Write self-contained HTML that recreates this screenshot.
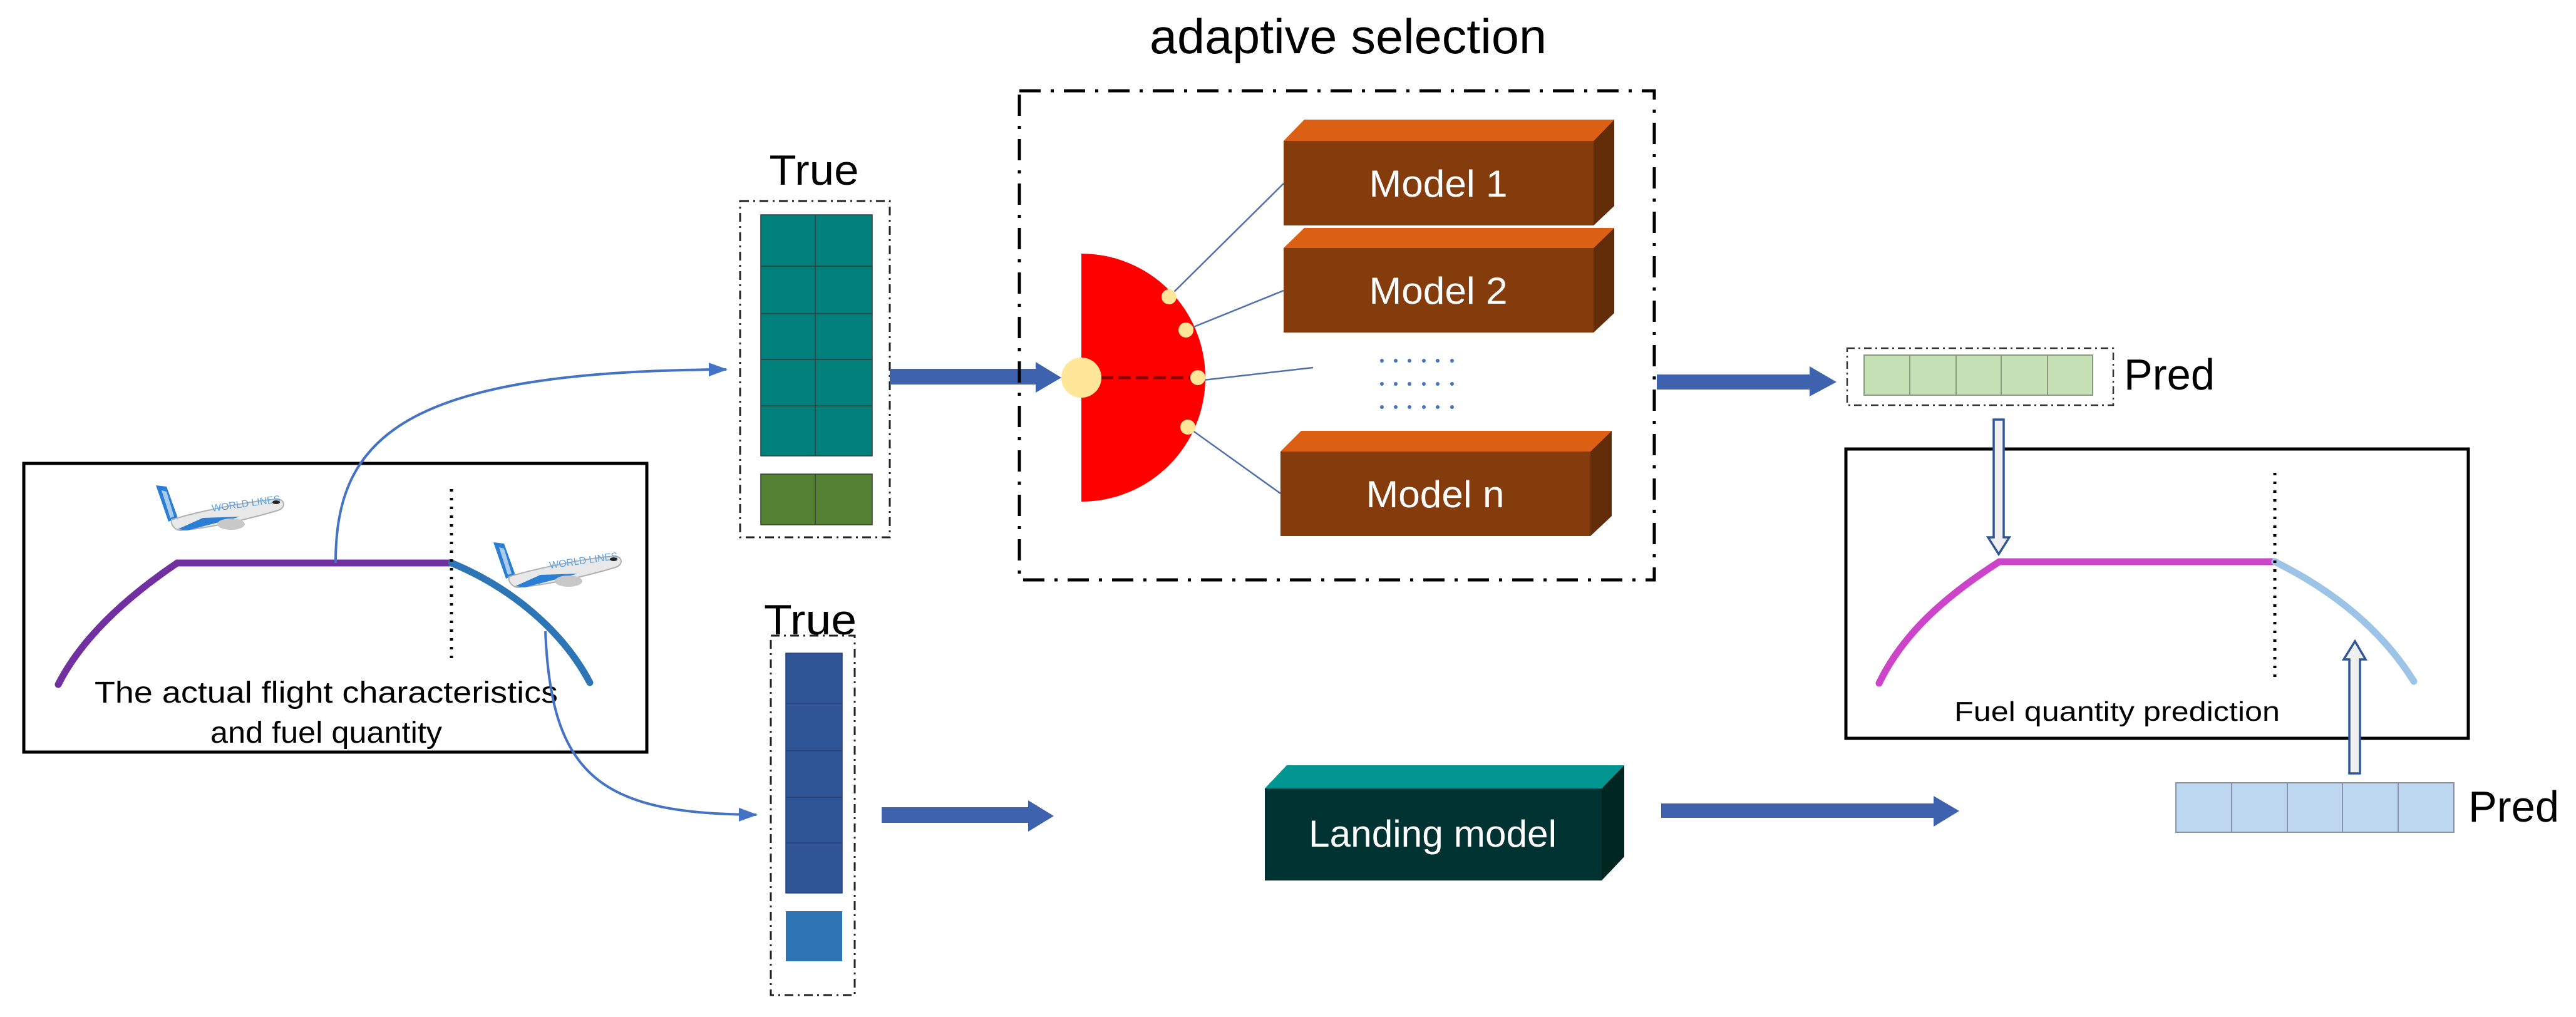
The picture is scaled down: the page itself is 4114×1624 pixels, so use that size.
<!DOCTYPE html>
<html><head><meta charset="utf-8"><style>html,body{margin:0;padding:0;background:#fff}svg{display:block}text{font-family:"Liberation Sans",sans-serif}</style></head><body>
<svg width="4114" height="1624" viewBox="0 0 4114 1624" xmlns="http://www.w3.org/2000/svg">
<defs>
<marker id="ah" markerWidth="30" markerHeight="26" refX="28" refY="13" orient="auto" markerUnits="userSpaceOnUse"><path d="M0,2 L30,13 L0,24 Z" fill="#4472c4"/></marker>
<g id="plane">
<path d="M5,0 L22,2 L40,52 L25,58 Z" fill="#2a7fd4"/>
<path d="M14,8 L22,10 L34,50 L28,52 Z" fill="#fff" opacity="0.6"/>
<path d="M30,55 C60,45 150,25 200,22 C212,24 212,36 200,40 C150,55 90,68 45,72 C35,72 28,62 30,55 Z" fill="#e8e8e8" stroke="#b0b0b0" stroke-width="2"/>
<path d="M40,70 L80,52 L140,50 L55,72 Z" fill="#2a7fd4"/>
<ellipse cx="125" cy="62" rx="22" ry="9" fill="#c8c8c8"/>
<text x="95" y="42" font-size="16" fill="#5ba3e0" transform="rotate(-8 95 42)">WORLD LINES</text>
<ellipse cx="197" cy="27" rx="6" ry="3" fill="#222"/>
</g>
</defs>

<rect x="38" y="740" width="995" height="461" fill="none" stroke="#000" stroke-width="5"/>
<path d="M93,1093 C130,1020 200,955 283,899 L721,899" fill="none" stroke="#7030a0" stroke-width="11" stroke-linecap="round"/>
<path d="M721,899 C820,940 900,1010 942,1090" fill="none" stroke="#2e75b6" stroke-width="11" stroke-linecap="round"/>
<line x1="721" y1="781" x2="721" y2="1058" stroke="#000" stroke-width="5" stroke-dasharray="4 10"/>
<use href="#plane" x="244" y="775"/>
<use href="#plane" x="783" y="866"/>
<text x="521" y="1122" font-size="48" text-anchor="middle" textLength="740" lengthAdjust="spacingAndGlyphs">The actual flight characteristics</text>
<text x="521" y="1186" font-size="48" text-anchor="middle" textLength="370" lengthAdjust="spacingAndGlyphs">and fuel quantity</text>

<path d="M536,899 C536,700 640,592 1160,590" fill="none" stroke="#4472c4" stroke-width="4" marker-end="url(#ah)"/>
<path d="M871,1008 C880,1240 960,1300 1208,1301" fill="none" stroke="#4472c4" stroke-width="4" marker-end="url(#ah)"/>

<text x="1300" y="295" font-size="68" text-anchor="middle" textLength="143" lengthAdjust="spacingAndGlyphs">True</text>
<g stroke="#3a3a3a" stroke-width="1.5">
<rect x="1215" y="343" width="178" height="385" fill="#007f7b"/>
<line x1="1302" y1="343" x2="1302" y2="728"/>
<line x1="1215" y1="425" x2="1393" y2="425"/><line x1="1215" y1="501" x2="1393" y2="501"/>
<line x1="1215" y1="574" x2="1393" y2="574"/><line x1="1215" y1="648" x2="1393" y2="648"/>
<rect x="1215" y="757" width="178" height="81" fill="#548235"/>
<line x1="1302" y1="757" x2="1302" y2="838"/>
</g>
<rect x="1182" y="321" width="239" height="537" fill="none" stroke="#222" stroke-width="3" stroke-dasharray="14 7 3 7"/>

<text x="1294" y="1013" font-size="68" text-anchor="middle" textLength="148" lengthAdjust="spacingAndGlyphs">True</text>
<g stroke="#26407a" stroke-width="1.5">
<rect x="1255" y="1043" width="90" height="383" fill="#2f5597"/>
<line x1="1255" y1="1123" x2="1345" y2="1123"/><line x1="1255" y1="1199" x2="1345" y2="1199"/>
<line x1="1255" y1="1273" x2="1345" y2="1273"/><line x1="1255" y1="1346" x2="1345" y2="1346"/>
</g>
<rect x="1255" y="1455" width="90" height="80" fill="#2e75b6"/>
<rect x="1231" y="1015" width="134" height="574" fill="none" stroke="#222" stroke-width="3" stroke-dasharray="14 7 3 7"/>

<path d="M1421,589 L1654,589 L1654,578 L1695,603 L1654,627 L1654,614 L1421,614 Z" fill="#3e62ad"/>
<path d="M1408,1289 L1642,1289 L1642,1278 L1683,1303 L1642,1328 L1642,1314 L1408,1314 Z" fill="#3e62ad"/>
<path d="M2646,598 L2890,598 L2890,585 L2933,610 L2890,633 L2890,622 L2646,622 Z" fill="#3e62ad"/>
<path d="M2653,1283 L3088,1283 L3088,1271 L3129,1295 L3088,1320 L3088,1306 L2653,1306 Z" fill="#3e62ad"/>

<text x="2153" y="85" font-size="78" text-anchor="middle" textLength="634" lengthAdjust="spacingAndGlyphs">adaptive selection</text>
<rect x="1628" y="145" width="1014" height="781" fill="none" stroke="#000" stroke-width="5" stroke-dasharray="34 16 5 16"/>
<path d="M1727,405 A198,198 0 0 1 1727,801 Z" fill="#ff0000"/>
<line x1="1758" y1="603" x2="1905" y2="603" stroke="#8b0000" stroke-width="5" stroke-dasharray="20 8"/>
<circle cx="1727" cy="603" r="32" fill="#ffe699"/>
<g stroke="#4f6fa8" stroke-width="2.5">
<line x1="1867" y1="474" x2="2050" y2="293"/>
<line x1="1894" y1="527" x2="2050" y2="464"/>
<line x1="1913" y1="608" x2="2097" y2="587"/>
<line x1="1897" y1="682" x2="2045" y2="788"/>
</g>
<g fill="#ffe699">
<circle cx="1867" cy="474" r="12"/><circle cx="1894" cy="527" r="12"/><circle cx="1913" cy="603" r="12"/><circle cx="1897" cy="682" r="12"/>
</g>
<g fill="#4472c4">
<circle cx="2207" cy="576" r="3"/><circle cx="2229" cy="576" r="3"/><circle cx="2251" cy="576" r="3"/><circle cx="2274" cy="576" r="3"/><circle cx="2296" cy="576" r="3"/><circle cx="2319" cy="576" r="3"/>
<circle cx="2207" cy="613" r="3"/><circle cx="2229" cy="613" r="3"/><circle cx="2251" cy="613" r="3"/><circle cx="2274" cy="613" r="3"/><circle cx="2296" cy="613" r="3"/><circle cx="2319" cy="613" r="3"/>
<circle cx="2207" cy="650" r="3"/><circle cx="2229" cy="650" r="3"/><circle cx="2251" cy="650" r="3"/><circle cx="2274" cy="650" r="3"/><circle cx="2296" cy="650" r="3"/><circle cx="2319" cy="650" r="3"/>
</g>

<g>
<path d="M2050,225 L2083,191 L2578,191 L2545,225 Z" fill="#dc6014"/>
<path d="M2545,225 L2578,191 L2578,329 L2545,360 Z" fill="#632c09"/>
<rect x="2050" y="225" width="495" height="135" fill="#843c0c"/>
<text x="2297" y="314" font-size="60" fill="#fff" text-anchor="middle" textLength="221" lengthAdjust="spacingAndGlyphs">Model 1</text>
</g>
<g>
<path d="M2050,396 L2083,364 L2578,364 L2545,396 Z" fill="#dc6014"/>
<path d="M2545,396 L2578,364 L2578,500 L2545,531 Z" fill="#632c09"/>
<rect x="2050" y="396" width="495" height="135" fill="#843c0c"/>
<text x="2297" y="485" font-size="60" fill="#fff" text-anchor="middle" textLength="221" lengthAdjust="spacingAndGlyphs">Model 2</text>
</g>
<g>
<path d="M2045,721 L2078,688 L2574,688 L2540,721 Z" fill="#dc6014"/>
<path d="M2540,721 L2574,688 L2574,824 L2540,856 Z" fill="#632c09"/>
<rect x="2045" y="721" width="495" height="135" fill="#843c0c"/>
<text x="2292" y="810" font-size="60" fill="#fff" text-anchor="middle" textLength="221" lengthAdjust="spacingAndGlyphs">Model n</text>
</g>

<path d="M2020,1259 L2055,1222 L2594,1222 L2558,1259 Z" fill="#009590"/>
<path d="M2558,1259 L2594,1222 L2594,1368 L2558,1406 Z" fill="#002622"/>
<rect x="2020" y="1259" width="538" height="147" fill="#003331"/>
<text x="2288" y="1352" font-size="60" fill="#fff" text-anchor="middle" textLength="396" lengthAdjust="spacingAndGlyphs">Landing model</text>

<g stroke="#8a9a80" stroke-width="2">
<rect x="2977" y="567" width="365" height="64" fill="#c5e0b4"/>
<line x1="3050" y1="567" x2="3050" y2="631"/><line x1="3124" y1="567" x2="3124" y2="631"/>
<line x1="3196" y1="567" x2="3196" y2="631"/><line x1="3270" y1="567" x2="3270" y2="631"/>
</g>
<rect x="2950" y="556" width="425" height="91" fill="none" stroke="#333" stroke-width="2.5" stroke-dasharray="12 6 3 6"/>
<text x="3392" y="622" font-size="70" textLength="145" lengthAdjust="spacingAndGlyphs">Pred</text>

<rect x="2948" y="717" width="994" height="462" fill="none" stroke="#000" stroke-width="5"/>
<path d="M3001,1091 C3040,1010 3110,950 3193,897 L3633,897" fill="none" stroke="#cc44c8" stroke-width="11" stroke-linecap="round"/>
<path d="M3633,897 C3720,940 3800,1000 3855,1088" fill="none" stroke="#9dc3e6" stroke-width="11" stroke-linecap="round"/>
<line x1="3633" y1="755" x2="3633" y2="1091" stroke="#000" stroke-width="5" stroke-dasharray="4 10"/>
<text x="3381" y="1151" font-size="44" text-anchor="middle" textLength="520" lengthAdjust="spacingAndGlyphs">Fuel quantity prediction</text>

<path d="M3184,670 L3200,670 L3200,858 L3209,858 L3192,885 L3175,858 L3184,858 Z" fill="#efefef" stroke="#2f5597" stroke-width="3.5"/>
<path d="M3752,1235 L3769,1235 L3769,1053 L3778,1053 L3761,1024 L3743,1053 L3752,1053 Z" fill="#efefef" stroke="#2f5597" stroke-width="3.5"/>

<g stroke="#8394a8" stroke-width="2">
<rect x="3475" y="1250" width="444" height="79" fill="#bdd7ee"/>
<line x1="3564" y1="1250" x2="3564" y2="1329"/><line x1="3653" y1="1250" x2="3653" y2="1329"/>
<line x1="3741" y1="1250" x2="3741" y2="1329"/><line x1="3830" y1="1250" x2="3830" y2="1329"/>
</g>
<text x="3942" y="1312" font-size="70" textLength="145" lengthAdjust="spacingAndGlyphs">Pred</text>
</svg>
</body></html>
